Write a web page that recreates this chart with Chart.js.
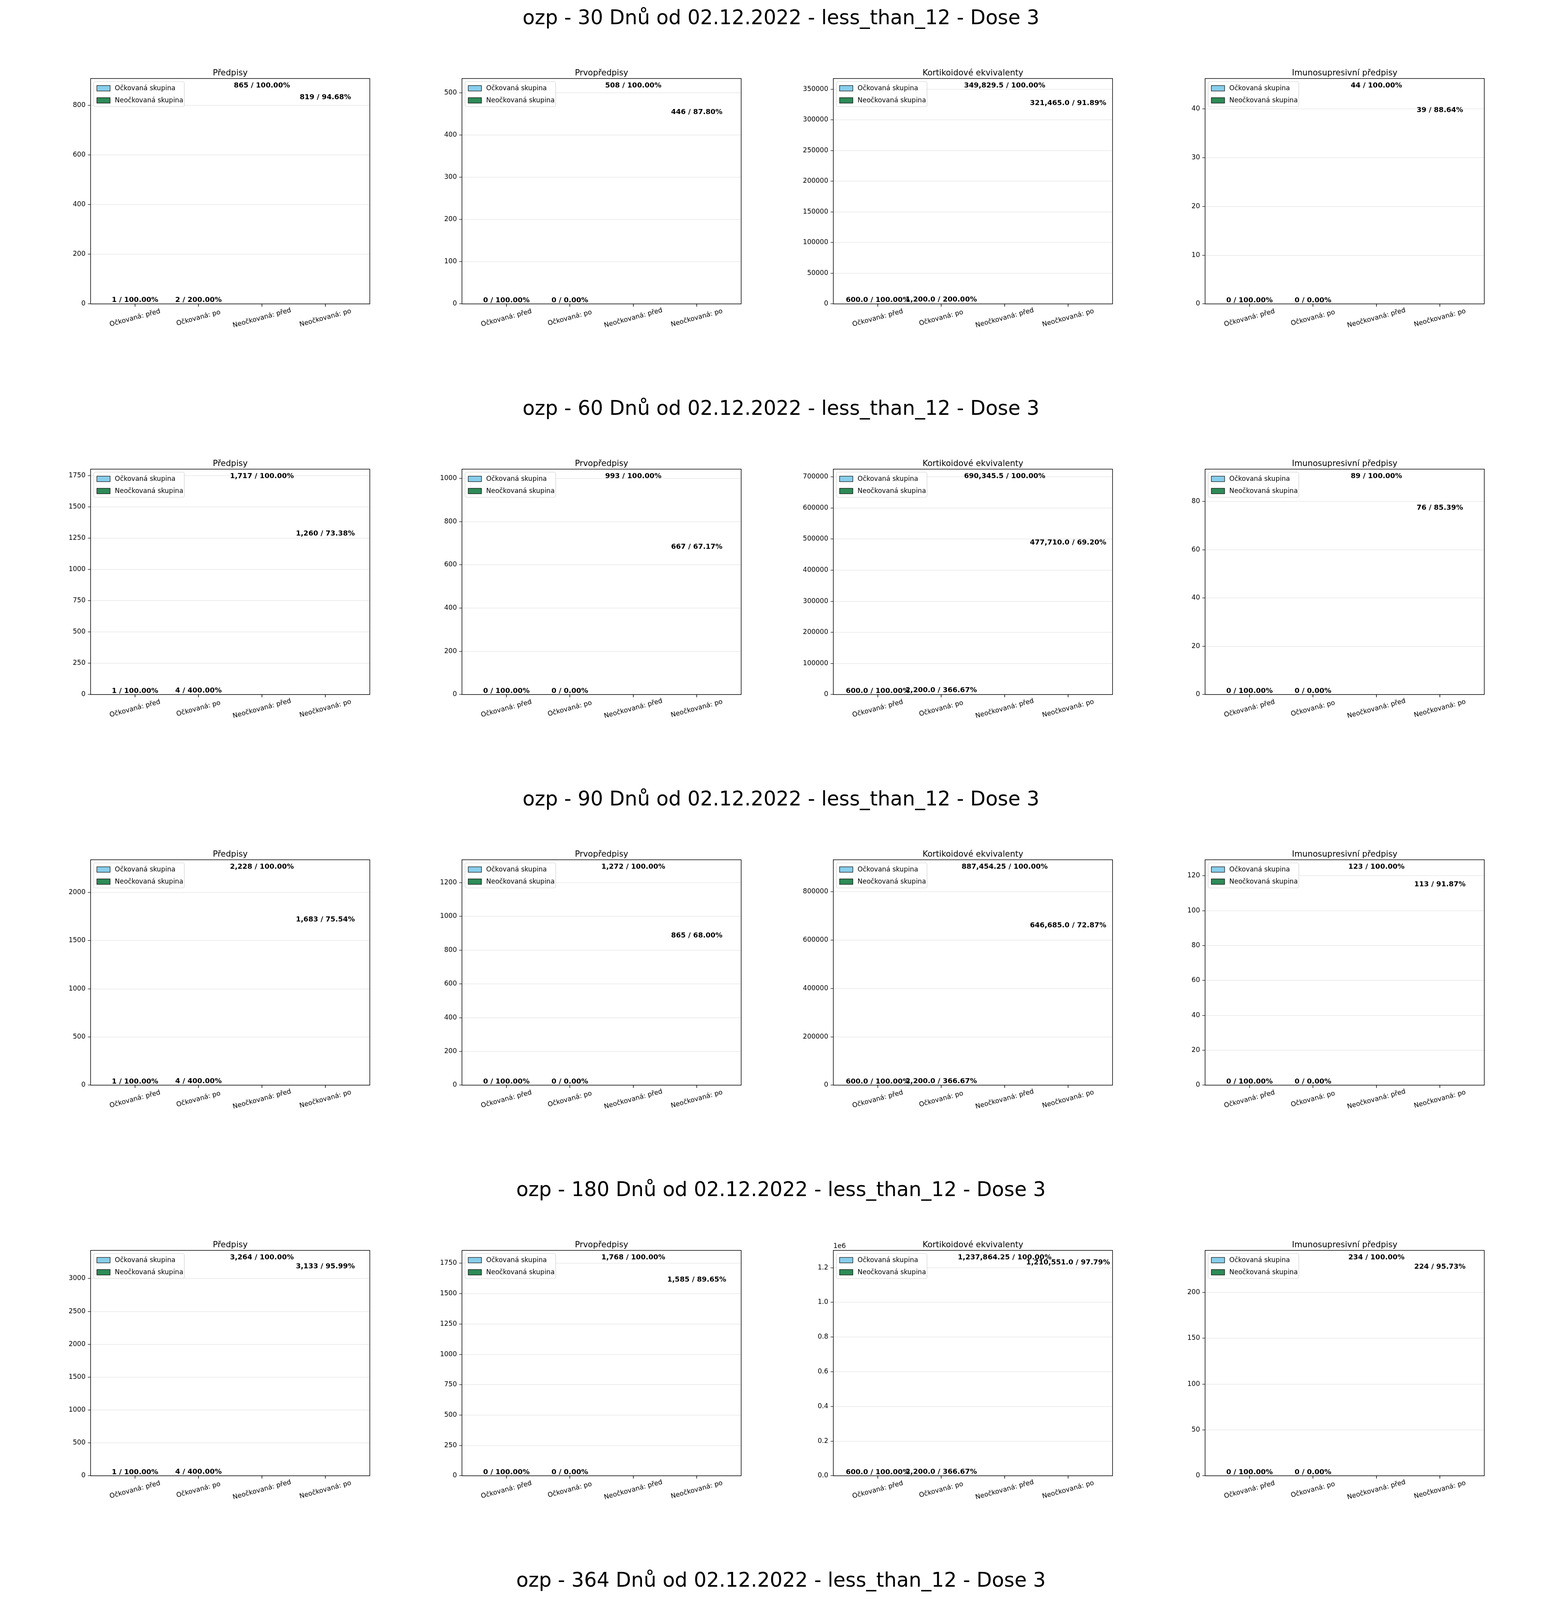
<!DOCTYPE html>
<html><head><meta charset="utf-8">
<script src="https://cdn.jsdelivr.net/npm/chart.js@4"></script>
<style>
body{margin:0;width:4000px;height:5000px;background:#fff;position:relative;font-family:"DejaVu Sans";}
.sup{position:absolute;left:0;width:4000px;text-align:center;font-size:51px;line-height:60px;color:#000;}
canvas{position:absolute;}
</style></head><body>
<script>
const categories = ["Očkovaná: před","Očkovaná: po","Neočkovaná: před","Neočkovaná: po"];
const seriesNames = ["Očkovaná skupina","Neočkovaná skupina"];
const rowTitles = [
 "ozp - 30 Dnů od 02.12.2022 - less_than_12 - Dose 3",
 "ozp - 60 Dnů od 02.12.2022 - less_than_12 - Dose 3",
 "ozp - 90 Dnů od 02.12.2022 - less_than_12 - Dose 3",
 "ozp - 180 Dnů od 02.12.2022 - less_than_12 - Dose 3",
 "ozp - 364 Dnů od 02.12.2022 - less_than_12 - Dose 3"];
const panelTitles = ["Předpisy","Prvopředpisy","Kortikoidové ekvivalenty","Imunosupresivní předpisy"];

// values per row: [Očkovaná před, Očkovaná po, Neočkovaná před, Neočkovaná po]
const predpisyValues = [[1,2,865,819],[1,4,1717,1260],[1,4,2228,1683],[1,4,3264,3133],[3,5,5915,5763]];
const predpisyLabels = [
 ["1 / 100.00%","2 / 200.00%","865 / 100.00%","819 / 94.68%"],
 ["1 / 100.00%","4 / 400.00%","1,717 / 100.00%","1,260 / 73.38%"],
 ["1 / 100.00%","4 / 400.00%","2,228 / 100.00%","1,683 / 75.54%"],
 ["1 / 100.00%","4 / 400.00%","3,264 / 100.00%","3,133 / 95.99%"],
 ["3 / 100.00%","5 / 166.67%","5,915 / 100.00%","5,763 / 97.43%"]];
const prvoValues = [[0,0,508,446],[0,0,993,667],[0,0,1272,865],[0,0,1768,1585],[0,0,3228,2815]];
const prvoLabels = [
 ["0 / 100.00%","0 / 0.00%","508 / 100.00%","446 / 87.80%"],
 ["0 / 100.00%","0 / 0.00%","993 / 100.00%","667 / 67.17%"],
 ["0 / 100.00%","0 / 0.00%","1,272 / 100.00%","865 / 68.00%"],
 ["0 / 100.00%","0 / 0.00%","1,768 / 100.00%","1,585 / 89.65%"],
 ["0 / 100.00%","0 / 0.00%","3,228 / 100.00%","2,815 / 87.21%"]];
const kortiValues = [[600,1200,349829.5,321465.0],[600,2200,690345.5,477710.0],[600,2200,887454.25,646685.0],[600,2200,1237864.25,1210551.0],[1400,2800,2235216.625,2185353.625]];
const kortiLabels = [
 ["600.0 / 100.00%","1,200.0 / 200.00%","349,829.5 / 100.00%","321,465.0 / 91.89%"],
 ["600.0 / 100.00%","2,200.0 / 366.67%","690,345.5 / 100.00%","477,710.0 / 69.20%"],
 ["600.0 / 100.00%","2,200.0 / 366.67%","887,454.25 / 100.00%","646,685.0 / 72.87%"],
 ["600.0 / 100.00%","2,200.0 / 366.67%","1,237,864.25 / 100.00%","1,210,551.0 / 97.79%"],
 ["1,400.0 / 100.00%","2,800.0 / 200.00%","2,235,216.625 / 100.00%","2,185,353.625 / 97.77%"]];
const imunoValues = [[0,0,44,39],[0,0,89,76],[0,0,123,113],[0,0,234,224],[0,0,448,488]];
const imunoLabels = [
 ["0 / 100.00%","0 / 0.00%","44 / 100.00%","39 / 88.64%"],
 ["0 / 100.00%","0 / 0.00%","89 / 100.00%","76 / 85.39%"],
 ["0 / 100.00%","0 / 0.00%","123 / 100.00%","113 / 91.87%"],
 ["0 / 100.00%","0 / 0.00%","234 / 100.00%","224 / 95.73%"],
 ["0 / 100.00%","0 / 0.00%","448 / 100.00%","488 / 108.93%"]];

// y tick values per row per panel
const predpisyTicks = [[0,200,400,600,800],[0,250,500,750,1000,1250,1500,1750],[0,500,1000,1500,2000],[0,500,1000,1500,2000,2500,3000],[0,1000,2000,3000,4000,5000,6000]];
const prvoTicks = [[0,100,200,300,400,500],[0,200,400,600,800,1000],[0,200,400,600,800,1000,1200],[0,250,500,750,1000,1250,1500,1750],[0,500,1000,1500,2000,2500,3000]];
const kortiTicks = [[0,50000,100000,150000,200000,250000,300000,350000],[0,100000,200000,300000,400000,500000,600000,700000],[0,200000,400000,600000,800000],[0,200000,400000,600000,800000,1000000,1200000],[0,500000,1000000,1500000,2000000]];
const kortiTickLabels = [null,null,null,["0.0","0.2","0.4","0.6","0.8","1.0","1.2"],["0.0","0.5","1.0","1.5","2.0"]];
const kortiOffset = ["","","","1e6","1e6"];
const imunoTicks = [[0,10,20,30,40],[0,20,40,60,80],[0,20,40,60,80,100,120],[0,50,100,150,200],[0,100,200,300,400,500]];

const COLORS = ["#87CEEB","#2E8B57"];
const FONT = "DejaVu Sans";
const plotW = 715, plotH = 577, colX = [232,1183,2134,3086], rowTop0 = 201, rowStep = 1000;
const padL = 150, padT = 60, padR = 80, padB = 160;

const panelPlugin = {
  id:'panelPlugin',
  afterDraw(chart){
    const o = chart.options.plugins.panelPlugin;
    const ctx = chart.ctx, a = chart.chartArea, xs = chart.scales.x, ys = chart.scales.y;
    ctx.save();
    ctx.strokeStyle = '#000'; ctx.lineWidth = 1.5;
    ctx.strokeRect(a.left, a.top, a.right-a.left, a.bottom-a.top);
    ctx.fillStyle = '#000'; ctx.font = `21px "${FONT}"`; ctx.textAlign='center'; ctx.textBaseline='alphabetic';
    ctx.fillText(o.title, (a.left+a.right)/2, a.top-8);
    if (o.offset){ ctx.font = `17px "${FONT}"`; ctx.textAlign='left'; ctx.fillText(o.offset, a.left, a.top-6); }
    ctx.font = `17px "${FONT}"`;
    categories.forEach((c,i)=>{
      const x = xs.getPixelForValue(i);
      ctx.beginPath(); ctx.moveTo(x,a.bottom); ctx.lineTo(x,a.bottom+7); ctx.stroke();
      ctx.save(); ctx.translate(x, a.bottom+36); ctx.rotate(-15*Math.PI/180);
      ctx.textAlign='center'; ctx.textBaseline='middle'; ctx.fillText(c,0,0); ctx.restore();
    });
    ctx.font = `bold 18px "${FONT}"`; ctx.textAlign='center'; ctx.textBaseline='alphabetic';
    o.values.forEach((v,i)=>{
      const x = xs.getPixelForValue(i), y = ys.getPixelForValue(v);
      ctx.fillText(o.labels[i], x, y-4);
    });
    const lx = a.left+8, ly = a.top+8, lw = 232, lh = 64;
    ctx.fillStyle='rgba(255,255,255,0.8)'; ctx.strokeStyle='#d0d0d0'; ctx.lineWidth=1.2;
    ctx.beginPath(); ctx.roundRect(lx,ly,lw,lh,4); ctx.fill(); ctx.stroke();
    ctx.font = `17px "${FONT}"`; ctx.textAlign='left'; ctx.textBaseline='middle';
    seriesNames.forEach((s,k)=>{
      const yy = ly+17+k*31;
      ctx.fillStyle = COLORS[k]; ctx.fillRect(lx+8,yy-7,34,14);
      ctx.strokeStyle='#000'; ctx.lineWidth=1.2; ctx.strokeRect(lx+8,yy-7,34,14);
      ctx.fillStyle='#000'; ctx.fillText(s, lx+54, yy+1);
    });
    ctx.restore();
  }
};

function makePanel(row,col,values,labels,ticks,tickLabels,offset){
  const cv = document.createElement('canvas');
  const W = padL+plotW+padR, H = padT+plotH+padB;
  cv.width=W; cv.height=H;
  cv.style.width=W+'px'; cv.style.height=H+'px';
  cv.style.left=(colX[col]-padL)+'px'; cv.style.top=(rowTop0+row*rowStep-padT)+'px';
  document.body.appendChild(cv);
  const maxV = Math.max(...values)*1.05;
  const common = {backgroundColor:null, borderColor:'#000', borderWidth:1.2, borderSkipped:false, grouped:false, barThickness:'flex', barPercentage:1, categoryPercentage:1};
  new Chart(cv,{
    type:'bar',
    data:{datasets:[
      Object.assign({}, common, {label:seriesNames[0], data:[{x:0,y:values[0]},{x:1,y:values[1]}], backgroundColor:COLORS[0]}),
      Object.assign({}, common, {label:seriesNames[1], data:[{x:2,y:values[2]},{x:3,y:values[3]}], backgroundColor:COLORS[1]})
    ]},
    options:{
      responsive:false, animation:false, devicePixelRatio:1,
      layout:{padding:{left:0,top:padT,right:padR,bottom:padB}},
      plugins:{legend:{display:false}, tooltip:{enabled:false},
        panelPlugin:{title:panelTitles[col], values, labels, offset}},
      scales:{
        x:{type:'linear', min:-0.7, max:3.7, display:false, offset:false},
        y:{min:0, max:maxV,
           afterFit(s){ s.width = padL; },
           afterBuildTicks(s){ s.ticks = ticks.map(v=>({value:v})); },
           ticks:{font:{family:FONT,size:17}, color:'#000', padding:6,
             callback:(v,i)=> tickLabels ? tickLabels[i] : String(v)},
           grid:{color:'#e3e3e3', lineWidth:1.2, tickColor:'#000', tickLength:7, drawTicks:true},
           border:{display:false}}
      }
    },
    plugins:[panelPlugin]
  });
}

for (let r=0;r<5;r++){
  const d = document.createElement('div'); d.className='sup';
  d.style.top=(r*rowStep+15)+'px'; d.textContent=rowTitles[r]; document.body.appendChild(d);
  makePanel(r,0,predpisyValues[r],predpisyLabels[r],predpisyTicks[r],null,"");
  makePanel(r,1,prvoValues[r],prvoLabels[r],prvoTicks[r],null,"");
  makePanel(r,2,kortiValues[r],kortiLabels[r],kortiTicks[r],kortiTickLabels[r],kortiOffset[r]);
  makePanel(r,3,imunoValues[r],imunoLabels[r],imunoTicks[r],null,"");
}
</script>
</body></html>
